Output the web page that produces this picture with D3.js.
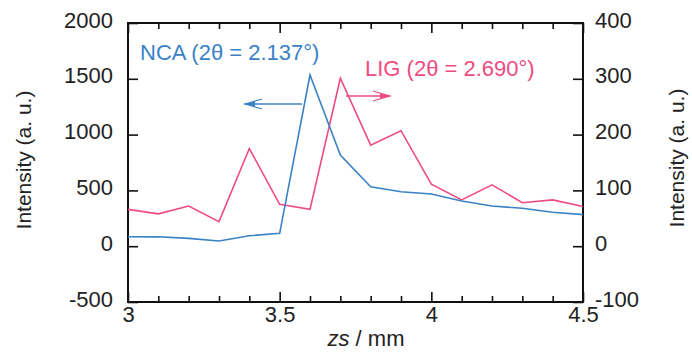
<!DOCTYPE html>
<html>
<head>
<meta charset="utf-8">
<script src="https://cdn.jsdelivr.net/npm/d3@7/dist/d3.min.js"></script>
<style>
  html, body { margin: 0; padding: 0; background: #fff; }
  svg { display: block; }
  text { font-family: Arial, "Liberation Sans", sans-serif; }
</style>
</head>
<body>
<svg id="chart" width="692" height="352"></svg>
<script>
// ---- data ----
const zs = [3.0, 3.1, 3.2, 3.3, 3.4, 3.5, 3.6, 3.7, 3.8, 3.9, 4.0, 4.1, 4.2, 4.3, 4.4, 4.5];
const ncaValues = [85, 84, 70, 46, 94, 115, 1534, 817, 533, 488, 468, 405, 360, 340, 304, 283];
const ligValues = [66, 58, 72, 44, 175, 75, 66, 301, 181, 207, 111, 83, 110, 78, 83, 71];
const xMajorTicks = [3, 3.5, 4, 4.5];
const xMinorTicks = [3.1, 3.2, 3.3, 3.4, 3.6, 3.7, 3.8, 3.9, 4.1, 4.2, 4.3, 4.4];
const leftTicks = [-500, 0, 500, 1000, 1500, 2000];
const rightTicks = [-100, 0, 100, 200, 300, 400];
const ncaLabel = "NCA (2θ = 2.137°)";
const ligLabel = "LIG (2θ = 2.690°)";
const ncaColor = "#3a82c6";
const ligColor = "#ef4b80";

(function () {
const svg = d3.select("#chart");
const pL = 128, pR = 583, pT = 23, pB = 302;

const x = d3.scaleLinear().domain([3, 4.5]).range([pL, pR]);
const yL = d3.scaleLinear().domain([-500, 2000]).range([pB, pT]);
const yR = d3.scaleLinear().domain([-100, 400]).range([pB, pT]);

const fmt = d => String(d);

// bottom axis (inward ticks)
svg.append("g").attr("transform", `translate(0,${pB})`)
  .call(d3.axisBottom(x).tickValues(xMajorTicks).tickSizeInner(-10).tickSizeOuter(0).tickPadding(4).tickFormat(fmt));
svg.append("g").attr("transform", `translate(0,${pB})`)
  .call(d3.axisBottom(x).tickValues(xMinorTicks).tickSizeInner(-6).tickSizeOuter(0).tickFormat(""));
// top axis
svg.append("g").attr("transform", `translate(0,${pT})`)
  .call(d3.axisTop(x).tickValues(xMajorTicks).tickSizeInner(-10).tickSizeOuter(0).tickFormat(""));
svg.append("g").attr("transform", `translate(0,${pT})`)
  .call(d3.axisTop(x).tickValues(xMinorTicks).tickSizeInner(-6).tickSizeOuter(0).tickFormat(""));
// left axis
const gL = svg.append("g").attr("transform", `translate(${pL},0)`)
  .call(d3.axisLeft(yL).tickValues(leftTicks).tickSizeInner(-10).tickSizeOuter(0).tickPadding(15).tickFormat(fmt));
// right axis
const gR = svg.append("g").attr("transform", `translate(${pR},0)`)
  .call(d3.axisRight(yR).tickValues(rightTicks).tickSizeInner(-10).tickSizeOuter(0).tickPadding(12).tickFormat(fmt));

svg.selectAll(".domain").remove();
svg.selectAll(".tick line").attr("stroke", "#111").attr("stroke-width", 1.6);
svg.selectAll(".tick text").attr("fill", "#222").style("font-size", "22px").style("font-family", "Arial, 'Liberation Sans', sans-serif");
gL.selectAll(".tick text").attr("dy", "4px");
gR.selectAll(".tick text").attr("dy", "4px");

// frame
svg.append("rect").attr("x", pL).attr("y", pT)
  .attr("width", pR - pL).attr("height", pB - pT)
  .attr("fill", "none").attr("stroke", "#111").attr("stroke-width", 2);

// lines
const ncaLine = d3.line().x((d, i) => x(zs[i])).y(d => yL(d));
const ligLine = d3.line().x((d, i) => x(zs[i])).y(d => yR(d));
svg.append("path").datum(ligValues).attr("d", ligLine)
  .attr("fill", "none").attr("stroke", ligColor).attr("stroke-width", 1.6);
svg.append("path").datum(ncaValues).attr("d", ncaLine)
  .attr("fill", "none").attr("stroke", ncaColor).attr("stroke-width", 1.6);

// labels
svg.append("text").attr("x", 140).attr("y", 60).attr("fill", ncaColor)
  .style("font-size", "22px").text(ncaLabel);
svg.append("text").attr("x", 365).attr("y", 76).attr("fill", ligColor)
  .style("font-size", "22px").text(ligLabel);

// arrows
function arrow(x0, x1, yy, color) {
  const dir = Math.sign(x1 - x0);
  svg.append("line").attr("x1", x0).attr("x2", x1).attr("y1", yy).attr("y2", yy)
    .attr("stroke", color).attr("stroke-width", 1.6);
  svg.append("path")
    .attr("d", `M${x1},${yy} L${x1 - dir * 10},${yy - 2.5} L${x1 - dir * 10},${yy + 2.5} Z`)
    .attr("fill", color);
  svg.append("path")
    .attr("d", `M${x1 - dir * 17},${yy - 5} L${x1},${yy} L${x1 - dir * 17},${yy + 5}`)
    .attr("fill", "none").attr("stroke", color).attr("stroke-width", 1.2);
}
arrow(302, 245, 104, ncaColor);
arrow(346, 390, 96, ligColor);

// axis titles
svg.append("text").attr("transform", "translate(31,160) rotate(-90)")
  .attr("text-anchor", "middle").attr("fill", "#222").style("font-size", "21px")
  .text("Intensity (a. u.)");
svg.append("text").attr("transform", "translate(684,158) rotate(-90)")
  .attr("text-anchor", "middle").attr("fill", "#222").style("font-size", "21px")
  .text("Intensity (a. u.)");
const xt = svg.append("text").attr("x", 366).attr("y", 346).attr("text-anchor", "middle")
  .attr("fill", "#222").style("font-size", "22px");
xt.append("tspan").style("font-style", "italic").text("zs");
xt.append("tspan").text(" / mm");
})();
</script>
</body>
</html>
